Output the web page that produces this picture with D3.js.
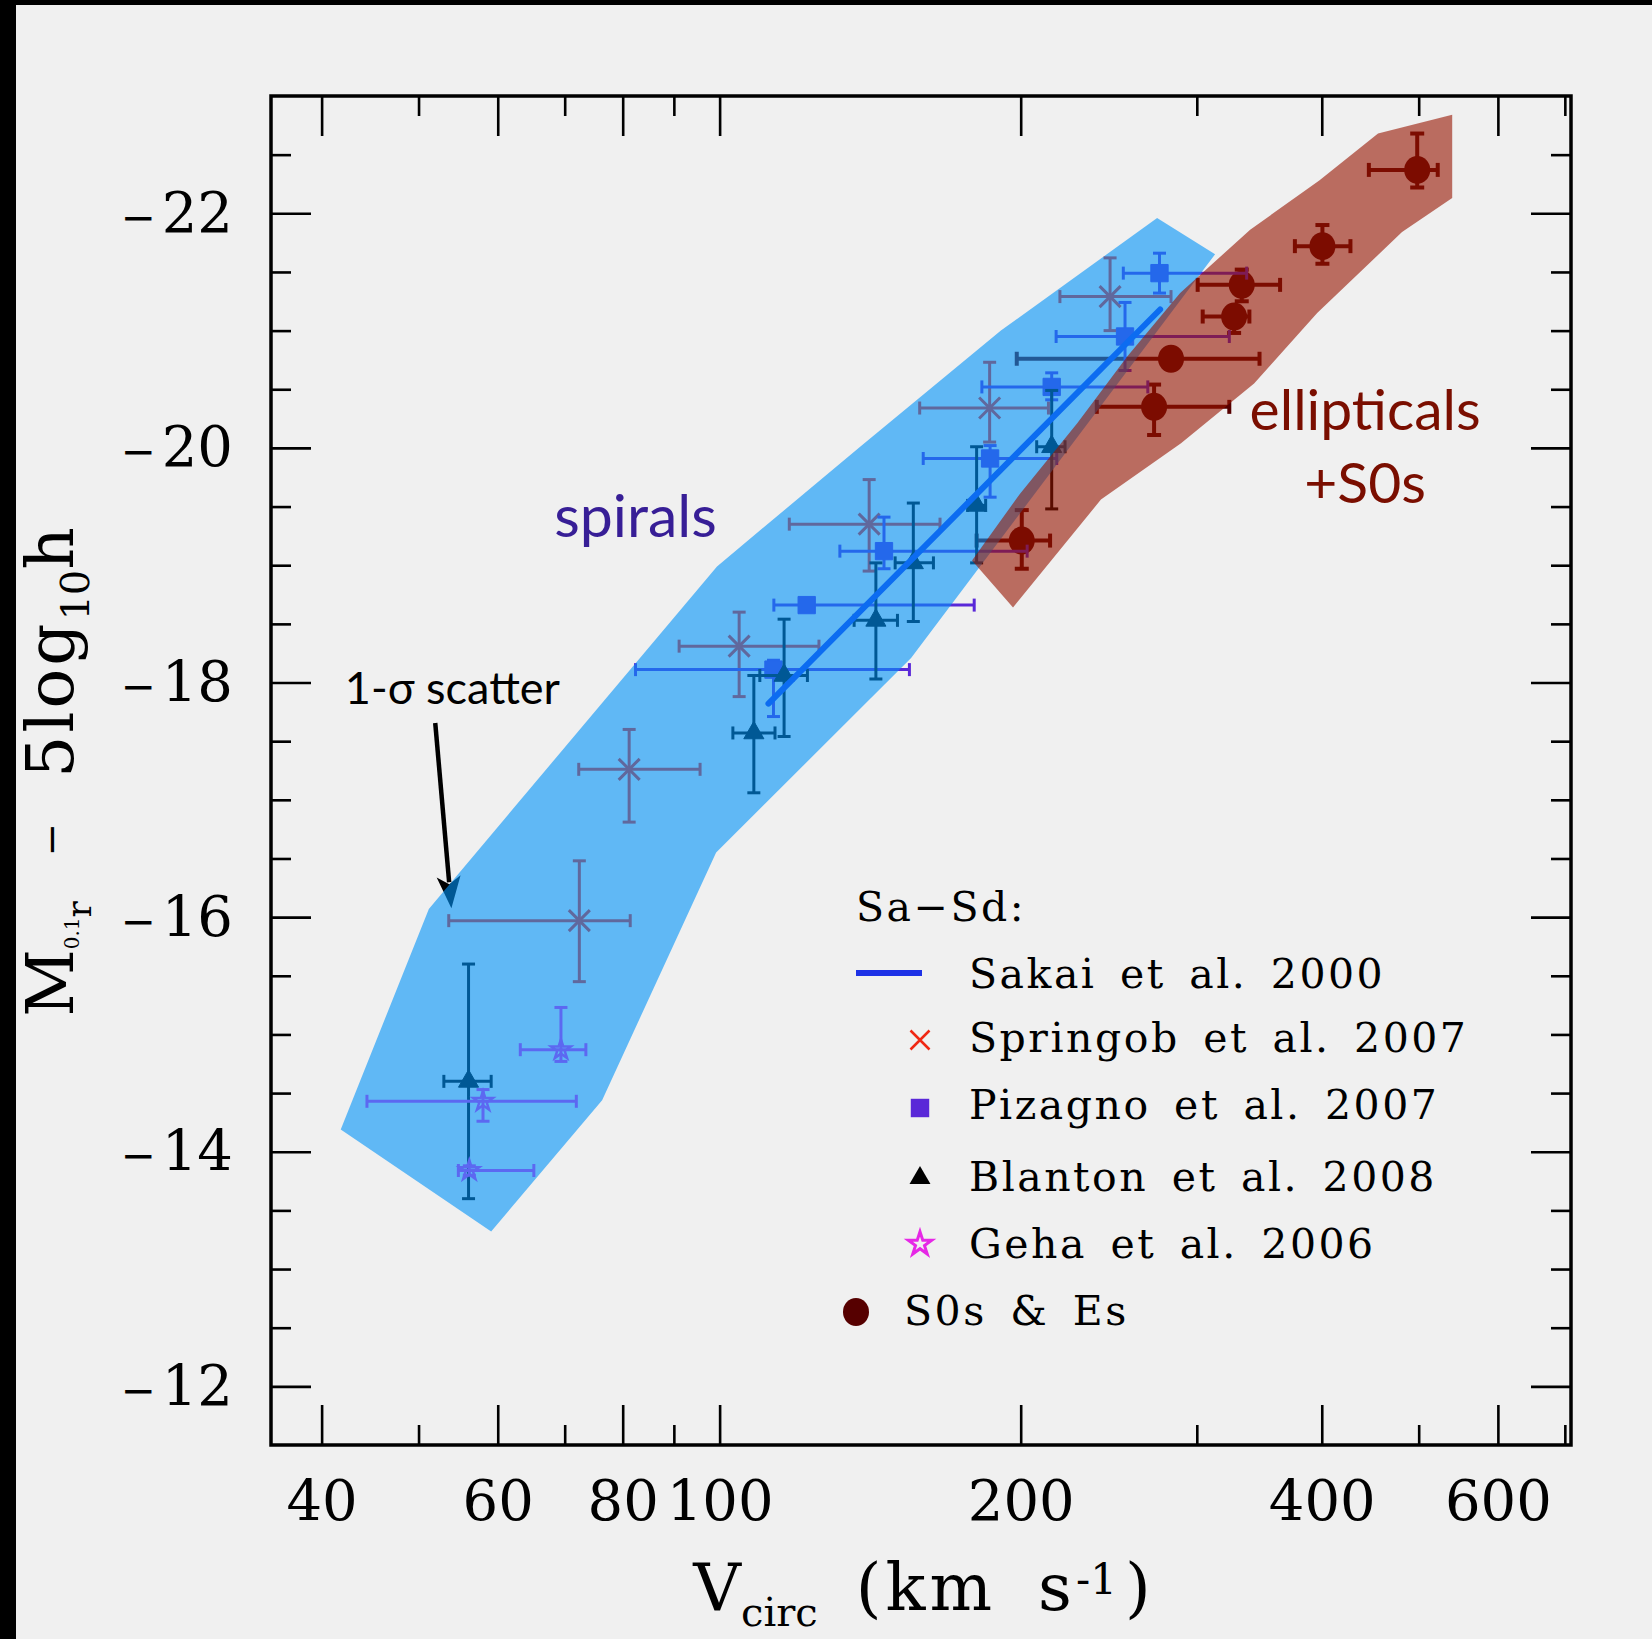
<!DOCTYPE html>
<html>
<head>
<meta charset="utf-8">
<title>M(0.1r) - 5log h vs Vcirc</title>
<script src="https://cdn.jsdelivr.net/npm/d3@7"></script>
<style>
  html, body { margin: 0; padding: 0; background: #f0f0f0; }
  svg { display: block; }
</style>
</head>
<body>
<svg id="chart" width="1652" height="1639"></svg>
<script>
// Luminosity vs circular velocity, spirals (Sa-Sd) and S0s / ellipticals
// values

// ---- axis ticks ----
var xMajor = [40, 60, 80, 100, 200, 400, 600];
var xMinor = [50, 70, 90, 300, 500, 700];
var yMajor = [-22, -20, -18, -16, -14, -12];
var yMinor = [-22.5, -21.5, -21, -20.5, -19.5, -19, -18.5, -17.5, -17, -16.5,
              -15.5, -15, -14.5, -13.5, -13, -12.5];

// ---- data points: [Vcirc, M, Vlo, Vhi, Mbright, Mfaint] ----
var springob = [
    [72.4, -15.97, 53.6, 81.4, -16.48, -15.45],
    [81.2, -17.26, 72.3, 95.6, -17.60, -16.81],
    [104.6, -18.31, 91.1, 125.7, -18.60, -17.88],
    [141.1, -19.35, 117.4, 166.1, -19.73, -18.95],
    [186.2, -20.34, 158.5, 213.2, -20.73, -20.05],
    [245.7, -21.29, 218.9, 282.7, -21.62, -21.00]
];
var pizagno = [
    [113.2, -18.11, 82.4, 154.8, -18.19, -17.71],
    [122.2, -18.66, 113.3, 179.7, -18.70, -18.62],
    [146.0, -19.12, 131.9, 203.0, -19.41, -18.97],
    [186.4, -19.91, 159.8, 217.3, -20.02, -19.58],
    [214.8, -20.52, 182.9, 268.0, -20.64, -20.41],
    [254.3, -20.95, 217.0, 323.3, -21.24, -20.66],
    [275.3, -21.49, 253.3, 336.5, -21.66, -21.32]
];
var blanton = [
    [56.1, -14.60, 53.0, 59.1, -15.60, -13.60],
    [108.2, -17.57, 103.1, 113.6, -18.06, -17.06],
    [116.0, -18.06, 109.7, 122.4, -18.54, -17.54],
    [143.3, -18.53, 136.3, 150.6, -19.02, -18.03],
    [156.2, -19.02, 149.8, 163.6, -19.53, -18.52],
    [180.7, -19.51, 177.0, 184.5, -20.01, -19.02],
    [214.8, -20.01, 207.5, 221.5, -20.49, -19.48]
];
var geha = [
    [69.4, -14.87, 63.2, 73.5, -15.23, -14.77],
    [58.0, -14.43, 44.4, 71.9, -14.53, -14.26],
    [56.2, -13.84, 54.8, 65.2, -13.88, -13.80]
];
var earlyTypes = [
    [200.5, -19.21, 180.7, 214.0, -19.47, -18.97],
    [271.9, -20.35, 238.3, 323.3, -20.54, -20.11],
    [282.7, -20.76, 198.2, 346.6, -20.84, -20.68],
    [326.9, -21.12, 304.1, 338.6, -21.20, -20.98],
    [332.7, -21.39, 300.6, 363.4, -21.52, -21.25],
    [400.6, -21.72, 376.0, 427.3, -21.90, -21.57],
    [498.3, -22.37, 445.8, 522.4, -22.68, -22.22]
];

// Sakai et al. 2000 relation
var sakaiLine = [[111.9, -17.82], [275.7, -21.18]];

// 1-sigma scatter bands [Vcirc, M]
var spiralBand = [
    [41.8, -14.19], [51.2, -16.07], [99.4, -18.99], [138.2, -20.01], [191.1, -21.00],
    [273.8, -21.96], [312.9, -21.65], [155.4, -18.21], [99.2, -16.55], [76.3, -14.44],
    [59.1, -13.32]
];
var ellipBand = [
    [178.8, -19.04], [199.7, -19.61], [227.8, -20.21], [255.6, -20.78], [288.7, -21.32],
    [339.2, -21.86], [397.7, -22.28], [455.3, -22.68], [540.1, -22.84], [540.1, -22.13],
    [481.2, -21.84], [395.8, -21.15], [342.3, -20.55], [289.3, -20.04], [240.6, -19.56],
    [196.5, -18.64]
];

// annotations (data coordinates)
var labelSpirals = [82.4, -19.24];
var labelEllip = [442, -20.15];
var labelS0 = [442, -19.53];
var labelScatter = [42.2, -17.82];
var scatterArrow = [[51.96, -17.655], [53.93, -16.076]];

var legendNames = ['Sakai et al. 2000', 'Springob et al. 2007', 'Pizagno et al. 2007',
                   'Blanton et al. 2008', 'Geha et al. 2006'];

// ---- colours ----
var colSakai = '#1e32e6';
var colSpringob = '#f02814';
var colPizagno = '#5a28d8';
var colBlanton = '#000000';
var colGeha = '#e628e6';
var colEarly = '#560000';

var W = 1652, H = 1639;
var plot = {left: 271, right: 1571, top: 96, bottom: 1445};

var svg = d3.select('#chart');

var x = d3.scaleLog().domain([35.6, 710]).range([plot.left, plot.right]);
var y = d3.scaleLinear().domain([-11.5, -23]).range([plot.bottom, plot.top]);

// background + black border strips
svg.append('rect').attr('width', W).attr('height', H).attr('fill', '#f0f0f0');
svg.append('rect').attr('x', 0).attr('y', 0).attr('width', W).attr('height', 5).attr('fill', '#000');
svg.append('rect').attr('x', 0).attr('y', 0).attr('width', 16).attr('height', H).attr('fill', '#000');

// ---- axes ----
function tickAxis(axis, transform) {
    var g = svg.append('g').attr('transform', transform).call(axis);
    g.select('.domain').remove();
    g.selectAll('.tick line').attr('stroke', '#000').attr('stroke-width', 2.6);
    return g;
}

var xb = tickAxis(d3.axisBottom(x).tickValues(xMajor).tickSize(-40).tickSizeOuter(0)
    .tickPadding(35).tickFormat(d3.format('d')), 'translate(0,' + plot.bottom + ')');
xb.selectAll('.tick text').attr('font-family', 'DejaVu Serif').attr('font-size', 56).attr('fill', '#000');
tickAxis(d3.axisBottom(x).tickValues(xMinor).tickSize(-20).tickFormat(''), 'translate(0,' + plot.bottom + ')');
tickAxis(d3.axisTop(x).tickValues(xMajor).tickSize(-40).tickFormat(''), 'translate(0,' + plot.top + ')');
tickAxis(d3.axisTop(x).tickValues(xMinor).tickSize(-20).tickFormat(''), 'translate(0,' + plot.top + ')');

var yl = tickAxis(d3.axisLeft(y).tickValues(yMajor).tickSize(-40).tickPadding(38),
    'translate(' + plot.left + ',0)');
yl.selectAll('.tick text').each(function(d) {
    var t = d3.select(this).text(null)
        .attr('font-family', 'DejaVu Serif').attr('font-size', 56).attr('fill', '#000');
    t.append('tspan').attr('font-size', 42).text('\u2212');
    t.append('tspan').attr('dx', 6).text(Math.abs(d));
});
tickAxis(d3.axisLeft(y).tickValues(yMinor).tickSize(-20).tickFormat(''), 'translate(' + plot.left + ',0)');
tickAxis(d3.axisRight(y).tickValues(yMajor).tickSize(-40).tickFormat(''), 'translate(' + plot.right + ',0)');
tickAxis(d3.axisRight(y).tickValues(yMinor).tickSize(-20).tickFormat(''), 'translate(' + plot.right + ',0)');

svg.append('rect')
    .attr('x', plot.left).attr('y', plot.top)
    .attr('width', plot.right - plot.left).attr('height', plot.bottom - plot.top)
    .attr('fill', 'none').attr('stroke', '#000').attr('stroke-width', 3.5);

// ---- points with error bars ----
var crossType = {
    draw: function(ctx, size) {
        var r = Math.sqrt(size) / 2;
        ctx.moveTo(-r, -r); ctx.lineTo(r, r);
        ctx.moveTo(-r, r); ctx.lineTo(r, -r);
    }
};

function drawSeries(rows, color, lw, cap, marker) {
    var layer = svg.append('g');
    var pts = layer.selectAll('g').data(rows).enter().append('g');
    pts.each(function(d) {
        var g = d3.select(this);
        var cx = x(d[0]), cy = y(d[1]);
        var segs = [
            [x(d[2]), cy, x(d[3]), cy],
            [cx, y(d[4]), cx, y(d[5])],
            [x(d[2]), cy - cap, x(d[2]), cy + cap],
            [x(d[3]), cy - cap, x(d[3]), cy + cap],
            [cx - cap, y(d[4]), cx + cap, y(d[4])],
            [cx - cap, y(d[5]), cx + cap, y(d[5])]
        ];
        g.selectAll('line').data(segs).enter().append('line')
            .attr('x1', function(s) { return s[0]; })
            .attr('y1', function(s) { return s[1]; })
            .attr('x2', function(s) { return s[2]; })
            .attr('y2', function(s) { return s[3]; })
            .attr('stroke', color).attr('stroke-width', lw);
        marker(g, cx, cy);
    });
}

function symbolMarker(type, size, color, filled, sw) {
    return function(g, cx, cy) {
        g.append('path')
            .attr('d', d3.symbol().type(type).size(size)())
            .attr('transform', 'translate(' + cx + ',' + cy + ')')
            .attr('fill', filled ? color : 'none')
            .attr('stroke', color)
            .attr('stroke-width', sw);
    };
}

drawSeries(earlyTypes, colEarly, 4, 7, function(g, cx, cy) {
    g.append('ellipse').attr('cx', cx).attr('cy', cy).attr('rx', 13).attr('ry', 14).attr('fill', colEarly);
});
drawSeries(springob, colSpringob, 3, 6.5, symbolMarker(crossType, 441, colSpringob, false, 3));
drawSeries(pizagno, colPizagno, 3, 6.5, symbolMarker(d3.symbolSquare, 300, colPizagno, true, 1));
drawSeries(blanton, colBlanton, 3, 6.5, symbolMarker(d3.symbolTriangle, 175, colBlanton, true, 1));
drawSeries(geha, colGeha, 3, 6.5, symbolMarker(d3.symbolStar, 120, colGeha, false, 2.5));

var line = d3.line()
    .x(function(d) { return x(d[0]); })
    .y(function(d) { return y(d[1]); });

svg.append('path').datum(sakaiLine)
    .attr('d', line).attr('fill', 'none')
    .attr('stroke', colSakai).attr('stroke-width', 6).attr('stroke-linecap', 'round');

// arrow pointing at the band edge
(function() {
    var x0 = x(scatterArrow[0][0]), y0 = y(scatterArrow[0][1]);
    var x1 = x(scatterArrow[1][0]), y1 = y(scatterArrow[1][1]);
    var dx = x1 - x0, dy = y1 - y0, len = Math.sqrt(dx * dx + dy * dy);
    var ux = dx / len, uy = dy / len;
    var headL = 32, headW = 12;
    var bx = x1 - ux * headL, by = y1 - uy * headL;
    svg.append('line')
        .attr('x1', x0).attr('y1', y0).attr('x2', bx + ux * 6).attr('y2', by + uy * 6)
        .attr('stroke', '#000').attr('stroke-width', 4.5);
    svg.append('path')
        .attr('d', 'M' + x1 + ',' + y1 +
            'L' + (bx - uy * headW) + ',' + (by + ux * headW) +
            'L' + (bx + ux * 8) + ',' + (by + uy * 8) +
            'L' + (bx + uy * headW) + ',' + (by - ux * headW) + 'Z')
        .attr('fill', '#000');
})();

// ---- translucent scatter bands on top ----
svg.append('path').datum(spiralBand)
    .attr('d', line.curve(d3.curveLinearClosed))
    .attr('fill', 'rgb(0,147,248)').attr('fill-opacity', 0.6);
svg.append('path').datum(ellipBand)
    .attr('d', line.curve(d3.curveLinearClosed))
    .attr('fill', 'rgb(150,20,0)').attr('fill-opacity', 0.6);

// ---- annotations ----
var sans = 'Lato, "Open Sans", sans-serif';
svg.append('text').attr('x', x(labelSpirals[0])).attr('y', y(labelSpirals[1]))
    .attr('text-anchor', 'middle').attr('font-family', sans).attr('font-size', 59)
    .attr('fill', '#371e96').text('spirals');
svg.append('text').attr('x', x(labelEllip[0])).attr('y', y(labelEllip[1]))
    .attr('text-anchor', 'middle').attr('font-family', sans).attr('font-size', 57)
    .attr('fill', '#7a0e00').text('ellipticals');
svg.append('text').attr('x', x(labelS0[0])).attr('y', y(labelS0[1]))
    .attr('text-anchor', 'middle').attr('font-family', sans).attr('font-size', 57)
    .attr('fill', '#7a0e00').text('+S0s');
svg.append('text').attr('x', x(labelScatter[0])).attr('y', y(labelScatter[1]))
    .attr('font-family', sans).attr('font-size', 45)
    .attr('fill', '#000').text('1-\u03c3 scatter');

// ---- legend ----
var serif = 'DejaVu Serif';
var leg = svg.append('g').attr('font-family', serif).attr('font-size', 41)
    .attr('letter-spacing', 2.5).attr('word-spacing', 8).attr('fill', '#000');
leg.append('text').attr('x', 856).attr('y', 921).text('Sa\u2212Sd:');
var legY = [988, 1052, 1119, 1191, 1258];
leg.selectAll('text.entry').data(legendNames).enter().append('text')
    .attr('class', 'entry')
    .attr('x', 969)
    .attr('y', function(d, i) { return legY[i]; })
    .text(function(d) { return d; });
leg.append('text').attr('x', 904).attr('y', 1325).text('S0s & Es');

svg.append('line').attr('x1', 856).attr('x2', 922).attr('y1', 973).attr('y2', 973)
    .attr('stroke', colSakai).attr('stroke-width', 6);
symbolMarker(crossType, 361, colSpringob, false, 2.5)(svg, 920, 1040);
symbolMarker(d3.symbolSquare, 340, colPizagno, true, 0)(svg, 920, 1108);
symbolMarker(d3.symbolTriangle, 190, colBlanton, true, 0)(svg, 920, 1178);
symbolMarker(d3.symbolStar, 170, colGeha, false, 3)(svg, 920, 1244);
svg.append('ellipse').attr('cx', 856).attr('cy', 1312).attr('rx', 13).attr('ry', 14).attr('fill', colEarly);

// ---- axis titles ----
var xt = svg.append('text').attr('x', 922).attr('y', 1610).attr('text-anchor', 'middle')
    .attr('font-family', serif).attr('font-size', 66).attr('fill', '#000');
xt.append('tspan').text('V');
xt.append('tspan').attr('font-size', 40).attr('dy', 16).text('circ');
xt.append('tspan').attr('dy', -16).attr('dx', 38).attr('letter-spacing', 4).text('(km');
xt.append('tspan').attr('dx', 42).text('s');
xt.append('tspan').attr('font-size', 42).attr('dy', -16).attr('dx', 4).text('-1');
xt.append('tspan').attr('dy', 16).attr('dx', 8).text(')');

var yt = svg.append('text').attr('transform', 'translate(73,772) rotate(-90)')
    .attr('text-anchor', 'middle').attr('font-family', serif).attr('font-size', 66)
    .attr('fill', '#000');
yt.append('tspan').text('M');
yt.append('tspan').attr('font-size', 20).attr('dy', 6).text('0.1');
yt.append('tspan').attr('font-size', 34).attr('dy', 12).text('r');
yt.append('tspan').attr('font-size', 40).attr('dy', -26).attr('dx', 45).text('\u2212');
yt.append('tspan').attr('dy', 8).attr('dx', 45).attr('letter-spacing', 3).text('5log');
yt.append('tspan').attr('font-size', 40).attr('dy', 16).text('10');
yt.append('tspan').attr('dy', -16).text('h');

console.log('chart drawn');
</script>
</body>
</html>
